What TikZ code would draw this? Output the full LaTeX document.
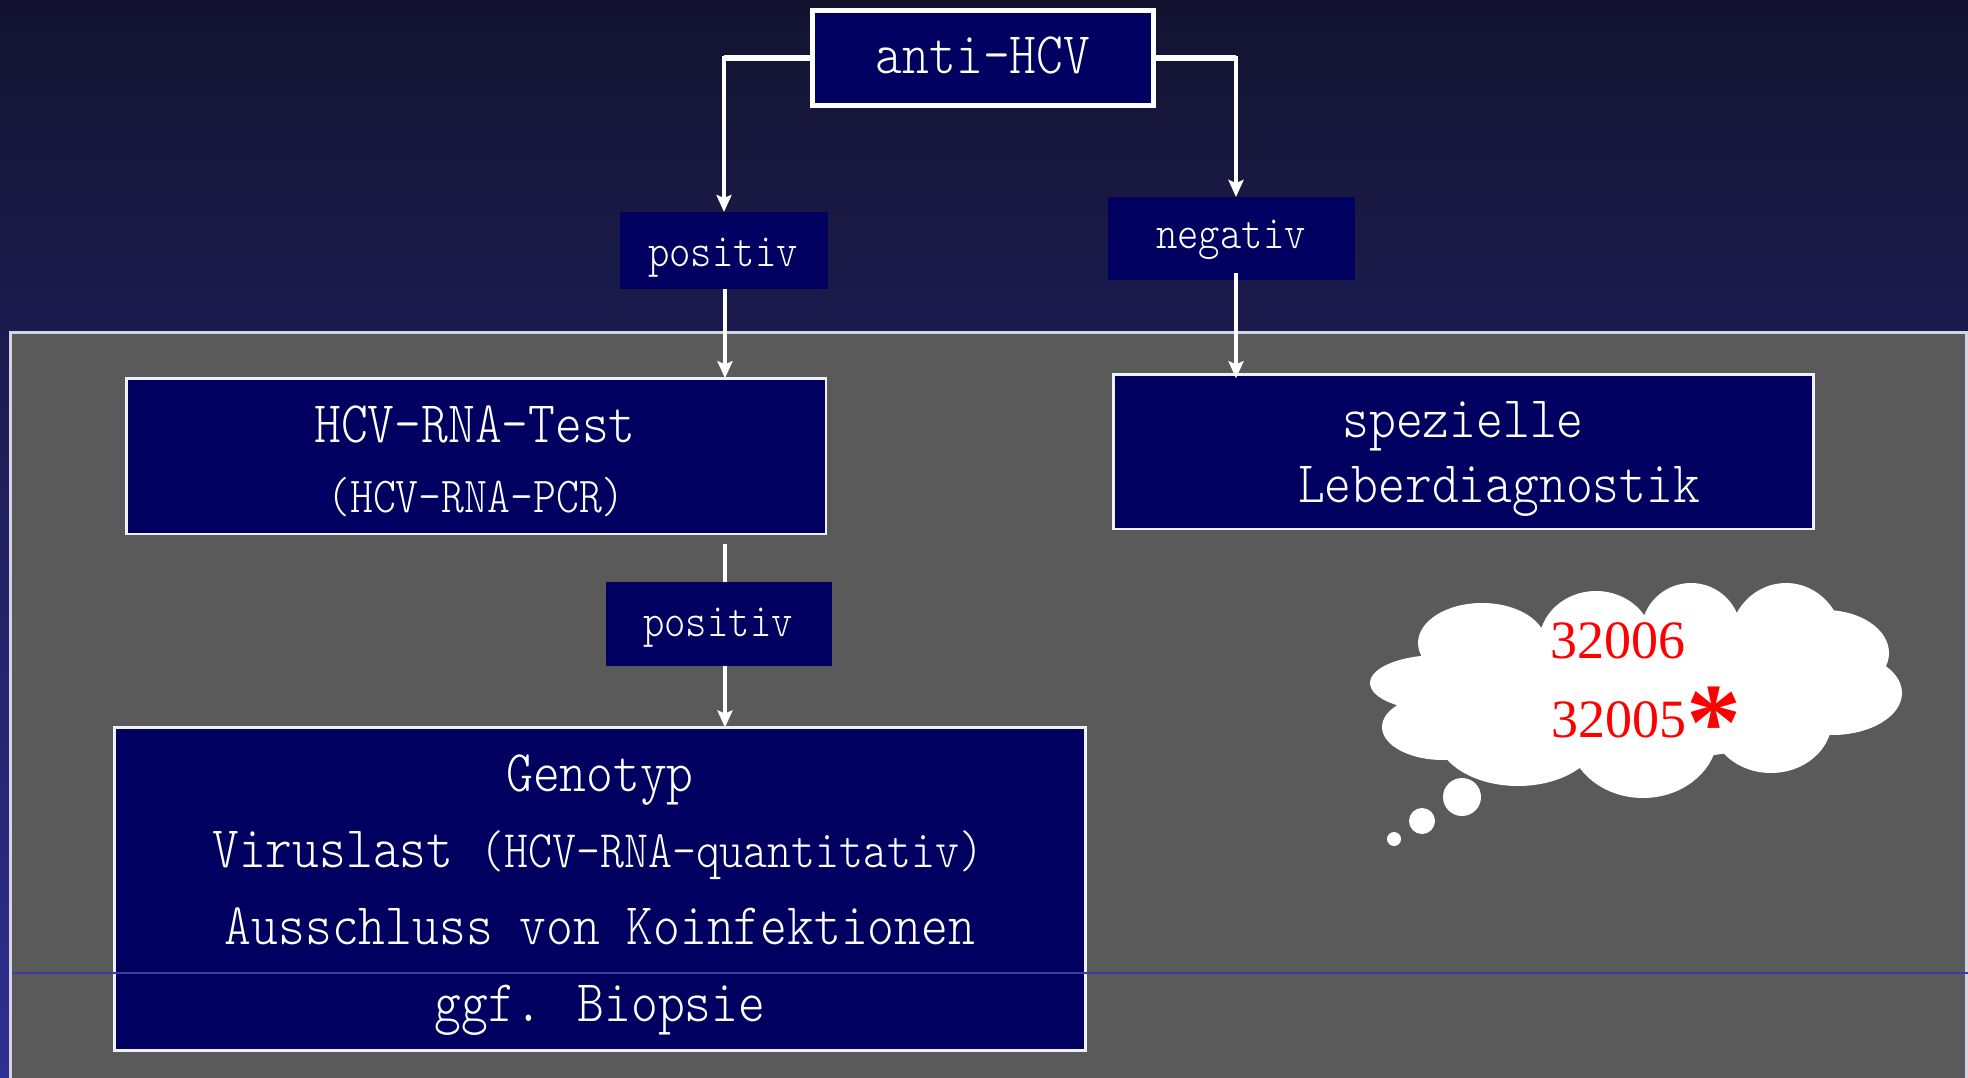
\documentclass[tikz,border=0pt]{standalone}
\usepackage{fontspec}
\setmainfont{Liberation Serif}
\newfontfamily\monof[FakeStretch=0.865]{lmmonolt10-regular.otf}
\usetikzlibrary{arrows.meta,calc}
\definecolor{boxnavy}{HTML}{000060}
\definecolor{panelgray}{HTML}{5A5A5A}
\definecolor{paneledge}{HTML}{D4D4E4}
\definecolor{boxedge}{HTML}{F0F0F8}
\definecolor{bgtop}{HTML}{131330}
\definecolor{bgmid}{HTML}{2D297F}
\definecolor{bgbot}{HTML}{2E2F92}
\definecolor{rule}{HTML}{3C3CA4}
\newcommand{\setfs}[1]{\fontsize{#1pt}{#1pt}\selectfont}
\begin{document}
\begin{tikzpicture}[x=1pt,y=-1pt,
  navybox/.style={rectangle, fill=boxnavy, inner sep=0pt, outer sep=0pt},
  framed/.style={navybox, draw=boxedge, line width=2.5pt},
  lbl/.style={text=white, inner sep=0pt, anchor=base, font=\monof\setfs{59}},
  lblsmall/.style={lbl, font=\monof\setfs{47}},
  lblpar/.style={lbl, font=\monof\setfs{50.4}},
  rednum/.style={text=red, inner sep=0pt, anchor=base west, font=\setfs{54}},
  conn/.style={draw=white, line width=4.5pt, -{Stealth[length=17pt,width=15pt,inset=3pt]}},
  plainline/.style={draw=white, line width=4.5pt},
  stub/.style={draw=white, line width=6pt},
]
\useasboundingbox (0,0) rectangle (1968,1078);
% background
\shade[top color=bgtop, middle color=bgmid, bottom color=bgbot] (0,0) rectangle (1968,1078);
% grey panel
\draw[fill=panelgray, draw=paneledge, line width=3pt] (10.5,332.5) rectangle (1966,1095);

% guide coordinates
\coordinate (lx) at (725,0);
\coordinate (nx) at (1236,0);

% boxes
\node[navybox, draw=white, line width=5pt, minimum width=341pt, minimum height=95pt] (anti) at (983,58) {};
\node[navybox, minimum width=208pt, minimum height=77pt] (pos1) at (724,250.5) {};
\node[navybox, minimum width=247pt, minimum height=83pt] (neg) at (1231.5,238.5) {};
\node[framed, minimum width=699.5pt, minimum height=155.5pt] (hcv) at (476,456) {};
\node[framed, minimum width=700pt, minimum height=154.5pt] (spez) at (1463.5,451.5) {};
\node[navybox, minimum width=226pt, minimum height=84pt] (pos2) at (719,624) {};
\node[framed, minimum width=971pt, minimum height=323pt] (geno) at (600,889) {};

% connectors
\draw[conn] (anti.west) -| (pos1.north);
\draw[conn] (anti.east) -| (nx |- neg.north);
\draw[stub] (anti.west) -- (anti.west -| pos1.north);
\draw[stub] (anti.east) -- (anti.east -| nx);
\draw[conn] (pos1.south -| lx) -- (lx |- hcv.north);
\draw[conn] ([yshift=7pt]nx |- neg.south) -- ([yshift=-4pt]nx |- spez.north);
\draw[plainline] ([yshift=-10pt]lx |- hcv.south) -- (lx |- pos2.north);
\draw[conn] (pos2.south -| lx) -- (lx |- geno.north);

% thin rule across the panel
\draw[rule, line width=1.5pt] (12,973) -- (1968,973);

% texts
\node[lbl] (tanti) at (983,74) {anti-HCV};
\node[lblsmall] (tpos1) at (723,266) {positiv};
\node[lblsmall] (tneg) at (1231,249) {negativ};
\node[lbl] (thcva) at (475,442) {HCV-RNA-Test};
\node[lblpar] (thcvb) at (476,512) {(HCV-RNA-PCR)};
\node[lbl] (tspeza) at (1463,437) {spezielle};
\node[lbl] (tspezb) at (1499,502) {Leberdiagnostik};
\node[lblsmall] (tpos2) at (718,636) {positiv};
\node[lbl] (tgenoa) at (600,791) {Genotyp};
\node[lbl] (tgenob) at (598,867) {Viruslast {\setfs{52.8}(HCV-RNA-quantitativ)}};
\node[lbl] (tgenoc) at (600,944) {Ausschluss von Koinfektionen};
\node[lbl] (tgenod) at (600,1021) {ggf. Biopsie};

% thought cloud
\fill[white]
  (1482,643) ellipse [x radius=64pt, y radius=40pt]
  (1596,643) ellipse [x radius=57pt, y radius=52pt]
  (1691,633) ellipse [x radius=50pt, y radius=50pt]
  (1786,643) ellipse [x radius=57pt, y radius=60pt]
  (1825,653) ellipse [x radius=64pt, y radius=43pt]
  (1832,693) ellipse [x radius=70pt, y radius=42pt]
  (1771,720) ellipse [x radius=61pt, y radius=53pt]
  (1643,733) ellipse [x radius=75pt, y radius=65pt]
  (1518,733) ellipse [x radius=82pt, y radius=53pt]
  (1443,727) ellipse [x radius=61pt, y radius=33pt]
  (1439,683) ellipse [x radius=69pt, y radius=28pt]
  (1640,690) ellipse [x radius=200pt, y radius=70pt];
\fill[white] (1462,797) circle [radius=19pt];
\fill[white] (1422,821) circle [radius=13pt];
\fill[white] (1394,839) circle [radius=7pt];

\node[rednum] (n1) at (1550,658) {32006};
\node[rednum] (n2) at (1551,737) {32005\raisebox{-22pt}{\setfs{110}\bfseries *}};
\end{tikzpicture}
\end{document}
